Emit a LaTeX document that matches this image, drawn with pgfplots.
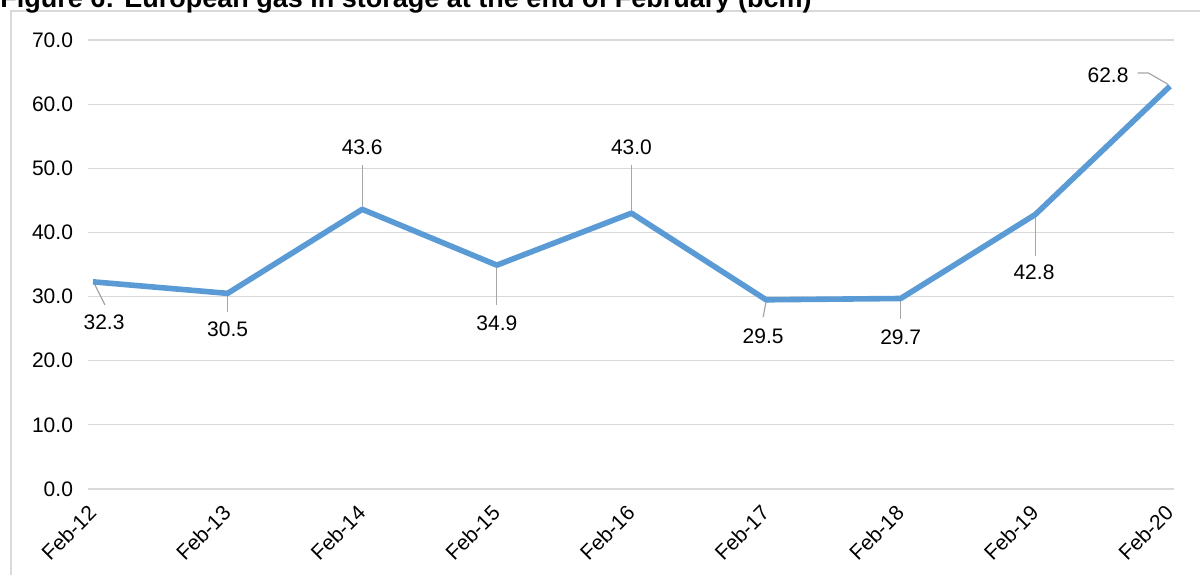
\documentclass[border=0pt]{standalone}
\usepackage{pgfplots}
\pgfplotsset{compat=1.18}
\usepackage{fontspec}
\setmainfont{Liberation Sans}
\definecolor{serieblue}{HTML}{5B9BD5}
\definecolor{gridgray}{HTML}{D9D9D9}
\definecolor{leadgray}{HTML}{A6A6A6}
\begin{document}
\begin{tikzpicture}
% frame round the chart, partly off the page
\draw[gridgray, line width=1pt] (5.5pt,281.5pt) rectangle (610pt,-10pt);
\node[anchor=base west, inner sep=0pt, font=\fontsize{13.5}{15}\selectfont\bfseries]
  at (0pt,283pt) {Figure 6: European gas in storage at the end of February (bcm)};
\begin{axis}[
  at={(44pt,42.5pt)}, anchor=south west,
  scale only axis,
  width=543pt, height=224.5pt,
  xmin=-0.037, xmax=8.03,
  ymin=0, ymax=70,
  clip=false,
  axis line style={draw=none},
  tick style={draw=none},
  ymajorgrids,
  major grid style={gridgray, line width=0.6pt},
  ytick={0,10,...,70},
  xtick={0,...,8},
  xticklabels={Feb-12,Feb-13,Feb-14,Feb-15,Feb-16,Feb-17,Feb-18,Feb-19,Feb-20},
  xticklabel style={rotate=45, anchor=east, font=\fontsize{10.5}{12}\selectfont, xshift=-3.9pt, yshift=-6.9pt},
  yticklabel style={font=\fontsize{10.5}{12}\selectfont, xshift=-4pt},
  /pgf/number format/assume math mode=true,
  yticklabel={\pgfmathprintnumber[fixed, fixed zerofill, precision=1]{\tick}},
]
% leader lines
\addplot[leadgray, line width=0.6pt] coordinates {(0.01,32.0) (0.089,28.7)};
\addplot[leadgray, line width=0.6pt] coordinates {(1,30.2) (1,27.6)};
\addplot[leadgray, line width=0.6pt] coordinates {(2,43.9) (2,50.5)};
\addplot[leadgray, line width=0.6pt] coordinates {(3,34.6) (3,28.7)};
\addplot[leadgray, line width=0.6pt] coordinates {(4,43.3) (4,50.5)};
\addplot[leadgray, line width=0.6pt] coordinates {(5,29.2) (4.978,26.8)};
\addplot[leadgray, line width=0.6pt] coordinates {(6,29.4) (6,26.5)};
\addplot[leadgray, line width=0.6pt] coordinates {(7,42.5) (7,36.3)};
\addplot[leadgray, line width=0.6pt] coordinates {(7.985,63.1) (7.84,64.86) (7.76,64.86)};
% series
\addplot[serieblue, line width=2.8pt, line join=round, mark=none] coordinates {
(0,32.3) (1,30.5) (2,43.6) (3,34.9) (4,43.0) (5,29.5) (6,29.7) (7,42.8) (8,62.8)
};
% data labels
\addplot[draw=none, mark=none, nodes near coords, point meta=explicit symbolic,
  every node near coord/.style={anchor=center, inner sep=0pt, font=\fontsize{10.5}{12}\selectfont}]
  table[meta=lab] {
x y lab
0.082 26.0 32.3
1 24.9 30.5
2 53.3 43.6
3 25.9 34.9
4 53.3 43.0
4.978 23.85 29.5
6 23.7 29.7
6.99 33.8 42.8
};
\addplot[draw=none, mark=none, nodes near coords, point meta=explicit symbolic,
  every node near coord/.style={anchor=east, inner sep=0pt, font=\fontsize{10.5}{12}\selectfont}]
  table[meta=lab] {
x y lab
7.695 64.55 62.8
};
\end{axis}
\pgfresetboundingbox
\useasboundingbox (0,0) rectangle (600pt,287pt);
\end{tikzpicture}
\end{document}
